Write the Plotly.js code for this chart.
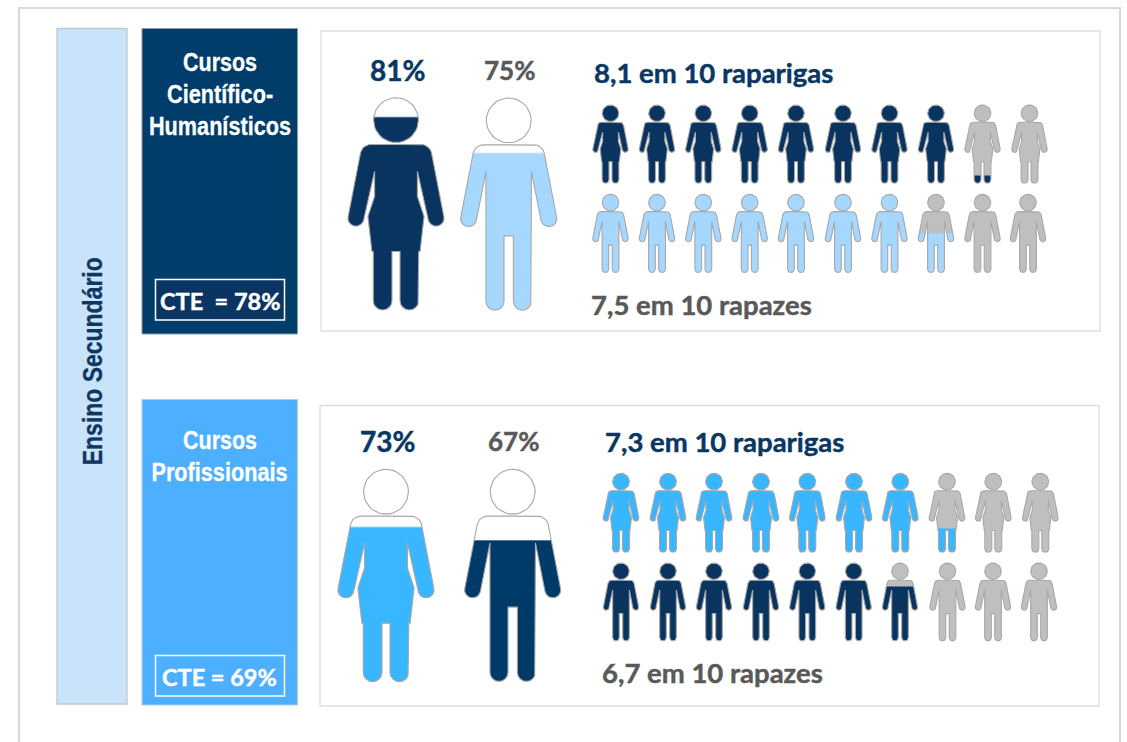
<!DOCTYPE html>
<html><head><meta charset="utf-8">
<script src="https://cdn.plot.ly/plotly-3.0.1.min.js"></script>
<style>html,body{margin:0;padding:0;background:#fff}#c{width:1127px;height:742px}</style>
</head><body><div id="c"></div>
<script>
// ---- Data ----
var trackNames = ["Cursos Científico-Humanísticos", "Cursos Profissionais"];
var cteValues = [78, 69];
var girlsPct = [81, 73];
var boysPct = [75, 67];
var girlsPer10 = [8.1, 7.3];
var boysPer10 = [7.5, 6.7];
// how high the large figures are actually filled in the picture (% of figure height)
var girlsBigFill = [90.6, 72.6];
var boysBigFill = [74, 66.3];

// ---- Silhouettes (half outline, offset from the axis / height, in 1/635 of the figure) ----
var hr = 67, hy = 67;
function arc(cx, cy, r, a0, a1, n) {
  var o = [];
  for (var i = 0; i <= n; i++) { var a = (a0 + (a1 - a0) * i / n) * Math.PI / 180; o.push([cx + r * Math.cos(a), cy + r * Math.sin(a)]); }
  return o;
}
var shoulder = [[0, 140]].concat(arc(75, 172, 32, -90, -15, 6));
var armEnd = arc(120, 360, 24, 10, 165, 8);
var femaleHalf = shoulder.concat([[143, 355]], armEnd, [[64, 220], [64, 295], [84, 355], [72, 460], [68, 460], [68, 607]],
  arc(40, 607, 28, 0, 180, 8), [[12, 460], [0, 460]]);
var maleHalf = shoulder.concat([[143, 355]], armEnd, [[68, 220], [68, 607]],
  arc(41, 607, 27, 0, 180, 8), [[14, 412], [0, 412]]);
function mirror(h) {
  var r = h.slice(1, -1).reverse().map(function (p) { return [-p[0], p[1]]; });
  return h.concat(r);
}
var femaleBody = mirror(femaleHalf), maleBody = mirror(maleHalf);
var head = arc(0, hy, hr, 0, 360, 40);

function clipBelow(poly, yc) {            // keep the part under the horizontal line yc
  var out = [];
  for (var i = 0; i < poly.length; i++) {
    var a = poly[i], b = poly[(i + 1) % poly.length];
    var ai = a[1] >= yc, bi = b[1] >= yc;
    if (ai) out.push(a);
    if (ai !== bi) { var t = (yc - a[1]) / (b[1] - a[1]); out.push([a[0] + t * (b[0] - a[0]), yc]); }
  }
  return out;
}

// ---- Trace collector, one trace per style ----
var layers = {};
function add(key, poly, cx, top, bottom) {
  if (!poly.length) return;
  var s = (bottom - top) / 635;
  if (!layers[key]) layers[key] = { x: [], y: [] };
  var L = layers[key];
  poly.forEach(function (p) { L.x.push(cx + p[0] * s); L.y.push(top + p[1] * s); });
  L.x.push(cx + poly[0][0] * s); L.y.push(top + poly[0][1] * s);
  L.x.push(null); L.y.push(null);
}
function figure(body, cx, top, bottom, level, base, fill, band) {
  var yc = 635 * (1 - level);
  [head, body].forEach(function (part) {
    add("1|" + base, part, cx, top, bottom);
    if (band) add("2|" + band, clipBelow(part, yc - 3), cx, top, bottom);
    add("3|" + fill, clipBelow(part, yc), cx, top, bottom);
    add("4|line", part, cx, top, bottom);
  });
}

var NAVY = "#08345F", NAVY2 = "#003A68", SKY = "#A6D8FF", AZURE = "#38B6FF", GREY = "#BFBFBF";

// large figures
figure(femaleBody, 396, 97.7, 310, girlsBigFill[0] / 100, "#FFFFFF", NAVY, "#5B7E9E");
figure(maleBody, 508.7, 98, 310.5, boysBigFill[0] / 100, "#FFFFFF", SKY, "#E6F4FF");
figure(femaleBody, 386, 469.3, 681.7, girlsBigFill[1] / 100, "#FFFFFF", AZURE, "#9ADAFF");
figure(maleBody, 512.7, 469.3, 681.7, boysBigFill[1] / 100, "#FFFFFF", NAVY2, "#50799A");

// rows of ten
var rowCols = [[610.5, 657, 703.3, 749.7, 796, 843, 889.5, 936, 982.5, 1029.5],
               [610.5, 657, 703.3, 749.7, 796, 843, 889.5, 936, 982.5, 1028],
               [621, 668, 714, 761, 807.3, 854, 900.3, 947, 993.3, 1040.3],
               [621, 668, 714, 761, 807.3, 853.7, 900, 947.5, 993, 1039]];
var rowTops = [105, 194.3, 473.3, 563], rowBottoms = [183.3, 272.7, 552.3, 641];
var rowValues = [girlsPer10[0], boysPer10[0], girlsPer10[1], boysPer10[1]];
var rowBodies = [femaleBody, maleBody, femaleBody, maleBody], rowColors = [NAVY, SKY, AZURE, NAVY];
rowValues.forEach(function (v, r) {
  for (var i = 0; i < 10; i++) {
    var lvl = Math.max(0, Math.min(1, v - i));
    figure(rowBodies[r], rowCols[r][i], rowTops[r], rowBottoms[r], lvl, GREY, rowColors[r], null);
  }
});

var traces = Object.keys(layers).sort().map(function (k) {
  var kind = k.split("|");
  if (kind[1] === "line") {
    return { type: "scatter", mode: "lines", x: layers[k].x, y: layers[k].y, hoverinfo: "skip", showlegend: false,
      line: { color: "#A8A8A8", width: 1.1 } };
  }
  return { type: "scatter", mode: "lines", x: layers[k].x, y: layers[k].y, hoverinfo: "skip", showlegend: false,
    fill: "toself", fillcolor: kind[1], line: { width: 0, color: kind[1] } };
});

// ---- Panels ----
function rect(x0, y0, x1, y1, fill, line, w) {
  return { type: "rect", xref: "x", yref: "y", x0: x0, y0: y0, x1: x1, y1: y1, fillcolor: fill, layer: "below",
    line: { color: line, width: w } };
}
var shapes = [
  { type: "path", xref: "x", yref: "y", path: "M19,745 L19,8 L1120,8 L1120,745", fillcolor: "rgba(0,0,0,0)", layer: "below", line: { color: "#D9D9D9", width: 2 } },
  rect(57, 28.5, 127, 704, "#C9E3FB", "#BFC8D2", 1.3),
  rect(142, 28.5, 297.5, 334, "#003D6B", "#8C9BAA", 1),
  rect(155.5, 279.5, 284.5, 320, "#0A3562", "#FFFFFF", 1.5),
  rect(321, 31, 1100, 331, "#FFFFFF", "#DEDEDE", 1.3),
  rect(142, 399.5, 297.5, 705, "#4DAFFF", "#B5CDE3", 1.2),
  rect(155.5, 655.5, 284.5, 696, "#4DAFFF", "#FFFFFF", 1.5),
  rect(320, 405.5, 1099, 706, "#FFFFFF", "#DEDEDE", 1.3)
];

// ---- Text ----
var NARROW = "'Liberation Sans',Arial,sans-serif";
var LATO = "Lato,'Noto Sans',sans-serif";
var fitWidths = [];   // text widths that need condensing, by annotation index
function txt(x, y, t, size, color, fam, extra, fit) {
  var a = { xref: "x", yref: "y", x: x, y: y, text: t, showarrow: false, xanchor: "center", yanchor: "middle",
    font: { family: fam, size: size, color: color, weight: "bold" } };
  for (var k in extra || {}) a[k] = extra[k];
  fitWidths.push(fit || 0);
  return a;
}
var DARK = "#083763", GTXT = "#595959";
var t1 = trackNames[0].split(" "), t2 = trackNames[1].split(" ");
var per = function (v) { return String(v).replace(".", ","); };
var annotations = [
  txt(92.5, 361, "Ensino Secundário", 27, "#0F3761", NARROW, { textangle: -90 }, 208),
  txt(219.5, 62, t1[0], 25, "#FFFFFF", NARROW, null, 74),
  txt(219.5, 94, "Científico-", 25, "#FFFFFF", NARROW, null, 106),
  txt(219.5, 126, "Humanísticos", 25, "#FFFFFF", NARROW, null, 142),
  txt(219.5, 440, t2[0], 25, "#FFFFFF", NARROW, null, 74),
  txt(219.5, 472, t2[1], 25, "#FFFFFF", NARROW, null, 136),
  txt(219.5, 300.5, "CTE  = " + cteValues[0] + "%", 23.5, "#FFFFFF", LATO),
  txt(219.5, 676.5, "CTE = " + cteValues[1] + "%", 23.5, "#FFFFFF", LATO),
  txt(397.5, 70, girlsPct[0] + "%", 28, DARK, LATO),
  txt(509.5, 70, boysPct[0] + "%", 26, GTXT, LATO),
  txt(387.5, 440.5, girlsPct[1] + "%", 28, DARK, LATO),
  txt(513.5, 440.5, boysPct[1] + "%", 26, GTXT, LATO),
  txt(713, 72.5, per(girlsPer10[0]) + " em 10 raparigas", 27.5, DARK, LATO),
  txt(701, 304.5, per(boysPer10[0]) + " em 10 rapazes", 27.5, GTXT, LATO),
  txt(724, 441, per(girlsPer10[1]) + " em 10 raparigas", 27.5, DARK, LATO),
  txt(712, 672.5, per(boysPer10[1]) + " em 10 rapazes", 27.5, GTXT, LATO)
];

var axis = { visible: false, fixedrange: true, showgrid: false, zeroline: false };
Plotly.newPlot("c", traces, {
  width: 1127, height: 742, margin: { l: 0, r: 0, t: 0, b: 0 },
  paper_bgcolor: "#FFFFFF", plot_bgcolor: "#FFFFFF", showlegend: false, hovermode: false,
  xaxis: Object.assign({ range: [0, 1127] }, axis),
  yaxis: Object.assign({ range: [742, 0] }, axis),
  shapes: shapes, annotations: annotations
}, { displayModeBar: false, staticPlot: true }).then(function () {
  var nodes = document.querySelectorAll("#c .annotation-text");
  nodes.forEach(function (n, i) {
    n.style.stroke = n.style.fill;
    if (fitWidths[i]) {
      n.setAttribute("textLength", fitWidths[i]);
      n.setAttribute("lengthAdjust", "spacingAndGlyphs");
      n.style.strokeWidth = "0.3px";
    } else {
      n.style.whiteSpace = "pre";
      n.style.strokeWidth = "0.45px";
    }
  });
});
</script></body></html>
